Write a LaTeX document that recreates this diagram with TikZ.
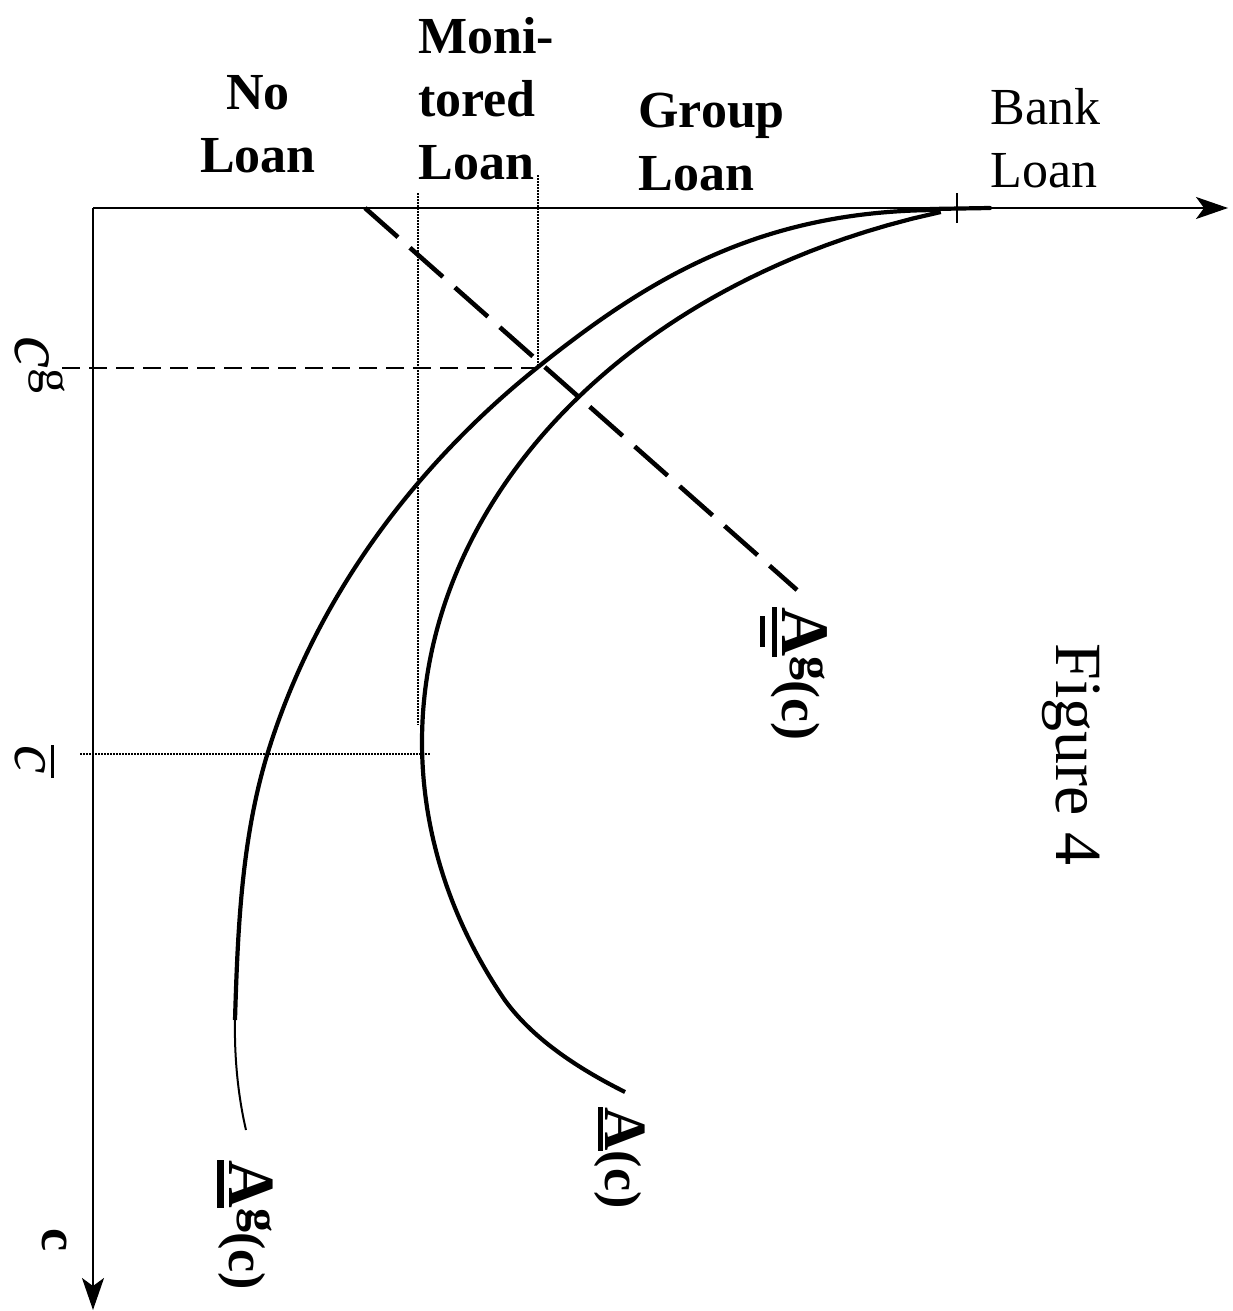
\documentclass[tikz,border=0pt]{standalone}
\usepackage{fontspec}
\setmainfont{Liberation Serif}
\usetikzlibrary{arrows.meta}
\newcommand{\mybigA}{{\fontsize{34}{38}\selectfont A}}
\newcommand{\mysupg}{\raisebox{9pt}{\fontsize{24}{28}\selectfont g}}
\newcommand{\myAbar}[3]{\vtop{\hbox{\fontsize{#3}{36}\selectfont A}\kern#1\hrule height #2}}
\newcommand{\myAbarbar}{\vtop{\hbox{\mybigA}\kern2.5pt\hrule height 2.5pt\kern3.5pt\hbox{\kern4.5pt\vrule width 15.5pt height 2.5pt depth 0pt}}}
\begin{document}
\begin{tikzpicture}[x=0.5pt,y=-0.5pt,
  axis/.style={line width=1pt},
  curve/.style={line width=2.1pt},
  tip/.style={-{Stealth[length=16pt,width=11pt,inset=4pt]}},
  lbl/.style={inner sep=0pt, font=\fontsize{26}{31.5}\selectfont\bfseries},
  rlbl/.style={inner sep=0pt, rotate=-90, anchor=base west},
  dots/.style={line width=0.9pt, dash pattern=on 0.8pt off 0.7pt},
  longdash/.style={line width=2.3pt, dash pattern=on 22pt off 8pt},
  shortdash/.style={line width=1pt, dash pattern=on 9pt off 4.5pt},
]
\useasboundingbox (0,0) rectangle (1232,1311);
% axes
\coordinate (O) at (93,208);
\coordinate (xe) at (1228,208);
\coordinate (ye) at (93,1310);
\draw[axis,tip] (O) -- (xe);
\draw[axis,tip] (O) -- (ye);
% bank loan segment and tick
\coordinate (bl1) at (930,209);
\coordinate (bl2) at (990,208);
\draw[curve,line cap=round] (bl1) -- (bl2);
\coordinate (t1) at (957,193);
\coordinate (t2) at (957,223);
\draw[axis] (t1) -- (t2);
% dotted guides
\coordinate (v1a) at (418,193);
\coordinate (v1b) at (418,725);
\coordinate (v2a) at (538,175);
\coordinate (v2b) at (538,368);
\coordinate (h1a) at (80,754);
\coordinate (h1b) at (430,754);
\draw[dots] (v1a) -- (v1b);
\draw[dots] (v2a) -- (v2b);
\draw[dots] (h1a) -- (h1b);
% c^g dashed
\coordinate (hga) at (62,368);
\coordinate (hgb) at (538,368);
\draw[shortdash] (hga) -- (hgb);
% long dashed line
\coordinate (da) at (365,208);
\coordinate (db) at (797,590);
\draw[longdash] (da) -- (db);
% outer curve
\coordinate (op0) at (940,210);
\coordinate (op1) at (538,367);
\coordinate (op2) at (268,752);
\coordinate (op3) at (235,1020);
\coordinate (op4) at (246,1130);
\draw[curve] (op0) .. controls (760,210) and (648,279) .. (op1)
  .. controls (413,467) and (315.4,599.2) .. (op2)
  .. controls (241.4,838) and (237.7,930) .. (op3);
\draw[line width=1pt] (op3) .. controls (234.2,1062) and (239,1100) .. (op4);
% inner curve
\draw[curve] plot[domain=212:1000, samples=120, variable=\t] ({1130-708*sqrt(max(0,1-((\t-742)/550)^2))}, {\t})
  .. controls (535,1042) and (585,1072) .. (625,1092);
% top labels
\node[lbl, anchor=north, align=center] (nl) at (258,75) {No\\Loan};
\node[lbl, anchor=north west, align=left] (ml) at (418,17) {Moni-\\tored\\Loan};
\node[lbl, anchor=north west, align=left] (gl) at (638,93) {Group\\Loan};
\node[lbl, anchor=north west, align=left, font=\fontsize{26}{31.5}\selectfont] (bk) at (990,88) {Bank\\Loan};
% figure label
\node[rlbl, font=\fontsize{33}{40}\selectfont] (fig) at (1056,643) {Figure 4};
% axis labels
\node[rlbl, font=\fontsize{36}{42}\selectfont\itshape] (cg) at (16,336) {c\raisebox{12pt}{\fontsize{25}{30}\selectfont\upshape g}};
\node[rlbl, font=\fontsize{32}{38}\selectfont\itshape] (cb) at (15,745) {\vbox{\hrule height 1.5pt\kern3pt\hbox{c\kern2pt}}};
\node[rlbl, font=\fontsize{26}{30}\selectfont\bfseries] (cc) at (42,1228) {c};
% curve labels
\node[rlbl, font=\fontsize{27}{34}\selectfont\bfseries] (Agg) at (782,607) {\myAbarbar\mysupg(c)};
\node[rlbl, font=\fontsize{26}{34}\selectfont\bfseries] (Ac) at (605,1107) {\myAbar{1pt}{2.5pt}{30}(c)};
\node[rlbl, font=\fontsize{26}{34}\selectfont\bfseries] (Ag) at (229,1160) {\myAbar{2.5pt}{3.5pt}{33}\mysupg(c)};
\end{tikzpicture}
\end{document}
